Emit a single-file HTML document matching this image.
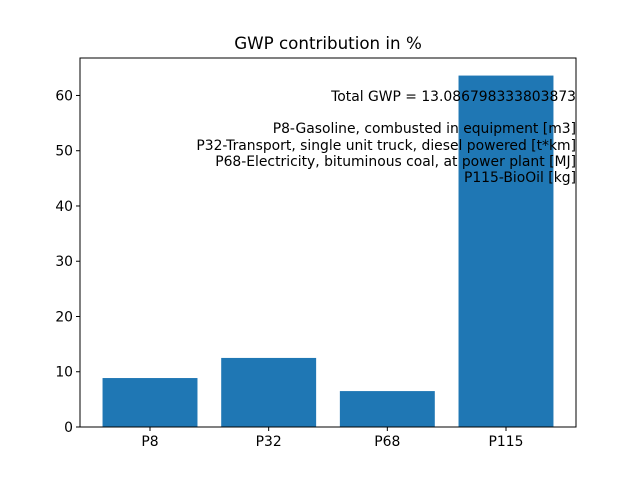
<!DOCTYPE html>
<html><head><meta charset="utf-8"><style>
body{margin:0;background:#fff;}
svg{display:block;font-family:"DejaVu Sans","Liberation Sans",sans-serif;}
</style></head><body>
<svg id="chart" width="640" height="480">
<rect width="640" height="480" fill="#fff"/>
<text x="328" y="49" font-size="16.7" text-anchor="middle">GWP contribution in %</text>
<g id="bars"></g>
<g id="yticks"></g>
<g id="xticks"></g>
<rect x="80" y="58" width="496" height="369" fill="none" stroke="#000" stroke-width="1"/>
<g font-size="13.9" text-anchor="end">
<text x="576" y="101">Total GWP = 13.086798333803873</text>
<text x="576" y="133">P8-Gasoline, combusted in equipment [m3]</text>
<text x="576" y="150">P32-Transport, single unit truck, diesel powered [t*km]</text>
<text x="576" y="166">P68-Electricity, bituminous coal, at power plant [MJ]</text>
<text x="576" y="182">P115-BioOil [kg]</text>
</g>
</svg>
<script>
const categories=["P8","P32","P68","P115"];
const values=[8.86,12.5,6.5,63.6];
const yTicks=[0,10,20,30,40,50,60];
const NS="http://www.w3.org/2000/svg";
const L=80,R=576,T=58,B=427;
const ymax=Math.max(...values)*1.05;
const xmin=-0.59,xmax=categories.length-1+0.59;
function xs(v){return L+(v-xmin)/(xmax-xmin)*(R-L);}
function ys(v){return B-v/ymax*(B-T);}
function mk(t,a,p){const e=document.createElementNS(NS,t);for(const k in a)e.setAttribute(k,a[k]);p.appendChild(e);return e;}
const gb=document.getElementById('bars'),gy=document.getElementById('yticks'),gx=document.getElementById('xticks');
values.forEach((v,i)=>{
 const r=mk('rect',{x:xs(i-0.4),y:ys(v),width:xs(i+0.4)-xs(i-0.4),height:ys(0)-ys(v),fill:'#1f77b4'},gb);
 
 
 const t=mk('line',{x1:xs(i),x2:xs(i),y1:B,y2:B+4,stroke:'#000'},gx);
 
 
 const l=mk('text',{x:xs(i),y:B+19,'font-size':13.9,'text-anchor':'middle'},gx);
 l.textContent=categories[i];
 
 
});
yTicks.forEach(v=>{
 const t=mk('line',{x1:L-4,x2:L,y1:ys(v),y2:ys(v),stroke:'#000'},gy);
 
 
 const l=mk('text',{x:L-7,y:ys(v)+5,'font-size':13.9,'text-anchor':'end'},gy);
 l.textContent=v;
 
 
});
</script>
</body></html>
